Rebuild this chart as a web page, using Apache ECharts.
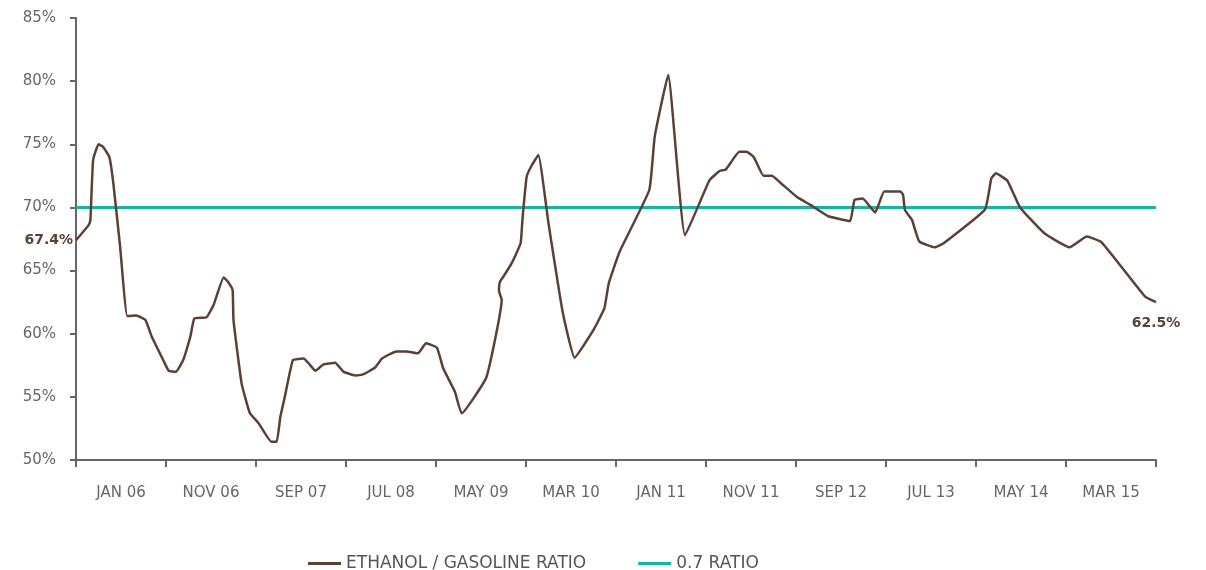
<!DOCTYPE html>
<html>
<head>
<meta charset="utf-8">
<script src="https://cdn.jsdelivr.net/npm/echarts@6/dist/echarts.min.js"></script>
<style>
  html, body { margin: 0; padding: 0; background: #ffffff; }
  #chart { width: 1206px; height: 570px; }
</style>
</head>
<body>
<div id="chart"></div>
<script>
// X tick labels (one per 10-month band, Aug 2005 .. Aug 2015)
const bandLabels = ['JAN 06', 'NOV 06', 'SEP 07', 'JUL 08', 'MAY 09', 'MAR 10',
                    'JAN 11', 'NOV 11', 'SEP 12', 'JUL 13', 'MAY 14', 'MAR 15'];

// Ethanol / gasoline ratio: months since Aug 2005, and ratio in %
const ratioMonths = [0, 1.4, 1.6, 1.9, 2.5, 3.0, 3.7, 4.15, 4.9, 5.7, 6.7, 7.7, 8.4, 9.7, 10.3, 11.1, 11.9, 12.7, 13.15,
  14.5, 15.3, 16.4, 16.9, 17.4, 17.5, 18.4, 19.3, 20.3, 21.7, 22.3, 22.7, 23.2, 24.1, 25.3, 25.8, 26.6, 27.5,
  28.8, 29.7, 31.0, 31.9, 33.2, 34.0, 35.6, 36.7, 38.0, 38.9, 40.1, 40.8, 42.1, 42.85, 45.6, 47.3, 47.0, 47.1,
  47.6, 48.4, 49.4, 49.6, 50.07, 50.6, 51.37, 52.5, 54.07, 55.4, 57.5, 58.7, 59.2, 60.4, 63.7, 64.3, 65.8,
  67.67, 70.4, 71.56, 72.2, 73.7, 74.5, 75.3, 76.4, 77.3, 78.2, 80.07, 81.6, 83.6, 86.0, 86.5, 87.4, 88.8,
  89.8, 91.6, 91.9, 92.1, 92.9, 93.2, 93.7, 95.4, 96.4, 101.0, 101.7, 102.2, 103.5, 104.9, 107.6, 110.4,
  112.3, 113.96, 118.8, 120];
const ratioValues = [67.4, 68.6, 69.0, 73.75, 75.0, 74.8, 74.0, 71.9, 66.9, 61.4, 61.45, 61.1, 59.8, 57.9, 57.07, 56.99, 57.9, 59.76, 61.2,
  61.3, 62.3, 64.46, 64.1, 63.46, 61.08, 56.07, 53.75, 52.9, 51.45, 51.45, 53.4, 55.0, 57.9, 58.04, 57.7, 57.07, 57.57,
  57.7, 57.0, 56.7, 56.78, 57.3, 58.04, 58.6, 58.6, 58.45, 59.24, 58.9, 57.26, 55.4, 53.7, 56.55, 62.67, 63.4, 64.1,
  64.65, 65.57, 67.16, 69.0, 72.43, 73.28, 74.15, 68.74, 61.74, 58.1, 60.3, 62.0, 64.0, 66.5, 71.38, 75.6, 80.48,
  67.8, 72.17, 72.9, 73.0, 74.4, 74.4, 74.0, 72.5, 72.5, 72.0, 70.85, 70.2, 69.3, 68.92, 70.6, 70.7, 69.6,
  71.26, 71.26, 71.0, 69.8, 69.0, 68.3, 67.3, 66.84, 67.16, 69.84, 72.3, 72.7, 72.1, 70.0, 67.95, 66.84,
  67.7, 67.24, 62.93, 62.5];

// Reference ratio line
const refMonths = [0, 120];
const refValues = [70, 70];

// Y tick values
const yTicks = [50, 55, 60, 65, 70, 75, 80, 85];

const BROWN = '#5b4034';
const TEAL = '#17b3a3';
const AXIS = '#666666';
const FONT = 'DejaVu Sans';

const ratioData = ratioMonths.map((m, i) => [m, ratioValues[i]]);
const refData = refMonths.map((m, i) => [m, refValues[i]]);
const lastIdx = ratioMonths.length - 1;
const endLabelStyle = { color: BROWN, fontFamily: FONT, fontWeight: 'bold', fontSize: 14 };

const chart = echarts.init(document.getElementById('chart'), null, { renderer: 'canvas' });
chart.setOption({
  animation: false,
  backgroundColor: '#ffffff',
  grid: { left: 76, right: 50, top: 18, bottom: 110, containLabel: false },
  legend: {
    left: 303, top: 550,
    itemWidth: 33, itemHeight: 3, itemGap: 52,
    icon: 'rect',
    textStyle: { color: '#555555', fontFamily: FONT, fontSize: 17 },
    data: ['ETHANOL / GASOLINE RATIO', '0.7 RATIO']
  },
  xAxis: [
    {
      type: 'category', position: 'bottom', data: bandLabels, boundaryGap: true,
      axisLine: { show: true, lineStyle: { color: AXIS, width: 2 } },
      axisTick: { show: true, interval: 0, length: 7, lineStyle: { color: AXIS, width: 2 } },
      axisLabel: { interval: 0, margin: 26, color: AXIS, fontFamily: FONT, fontSize: 15 },
      splitLine: { show: false }
    },
    {
      type: 'value', position: 'bottom', min: 0, max: 120, show: false, splitLine: { show: false }
    }
  ],
  yAxis: {
    type: 'value', min: yTicks[0], max: yTicks[yTicks.length - 1], interval: 5,
    axisLine: { show: true, lineStyle: { color: AXIS, width: 2 } },
    axisTick: { show: true, length: 6, lineStyle: { color: AXIS, width: 2 } },
    axisLabel: { margin: 20, color: AXIS, fontFamily: FONT, fontSize: 15, formatter: '{value}%' },
    splitLine: { show: false }
  },
  series: [
    {
      name: '0.7 RATIO', type: 'line', xAxisIndex: 1, data: refData,
      symbol: 'none', color: TEAL, lineStyle: { color: TEAL, width: 3 }, z: 2
    },
    {
      name: 'ETHANOL / GASOLINE RATIO', type: 'line', xAxisIndex: 1, data: ratioData,
      symbol: 'none', smooth: 0.12, color: BROWN, lineStyle: { color: BROWN, width: 2.5 }, z: 3,
      markPoint: {
        symbol: 'circle', symbolSize: 0, silent: true,
        data: [
          { coord: ratioData[0], value: ratioValues[0].toFixed(1) + '%',
            label: Object.assign({ show: true, position: 'left', distance: 3, formatter: '{c}' }, endLabelStyle) },
          { coord: ratioData[lastIdx], value: ratioValues[lastIdx].toFixed(1) + '%',
            label: Object.assign({ show: true, position: 'bottom', distance: 14, formatter: '{c}' }, endLabelStyle) }
        ]
      }
    }
  ]
});
</script>
</body>
</html>
